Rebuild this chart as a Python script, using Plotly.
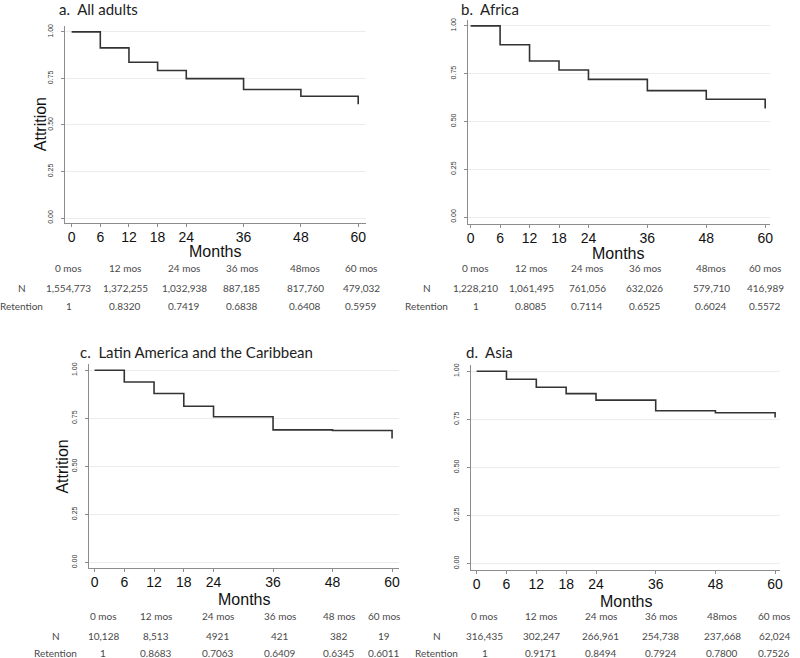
import plotly.graph_objects as go

W, H = 800, 658

# ---------------- data ----------------
months = [0, 6, 12, 18, 24, 36, 48, 60, 60]
surv_a = [1.0, 0.914, 0.837, 0.792, 0.749, 0.690, 0.654, 0.654, 0.611]
surv_b = [1.0, 0.901, 0.816, 0.769, 0.720, 0.661, 0.616, 0.616, 0.567]
surv_c = [1.0, 0.939, 0.879, 0.813, 0.758, 0.690, 0.687, 0.687, 0.645]
surv_d = [1.0, 0.959, 0.917, 0.884, 0.850, 0.795, 0.784, 0.784, 0.759]

xtick_vals = [0, 6, 12, 18, 24, 36, 48, 60]
ytick_vals = [0, 0.25, 0.5, 0.75, 1.0]
ytick_text = ["0.00", "0.25", "0.50", "0.75", "1.00"]

titles = ["a.  All adults", "b.  Africa", "c.  Latin America and the Caribbean", "d.  Asia"]

hdr_a = ["0 mos", "12 mos", "24 mos", "36 mos", "48mos", "60 mos"]
hdr_b = ["0 mos", "12 mos", "24 mos", "36 mos", "48mos", "60 mos"]
hdr_c = ["0 mos", "12 mos", "24 mos", "36 mos", "48 mos", "60 mos"]
hdr_d = ["0 mos", "12 mos", "24 mos", "36 mos", "48mos", "60 mos"]

n_a = ["1,554,773", "1,372,255", "1,032,938", "887,185", "817,760", "479,032"]
n_b = ["1,228,210", "1,061,495", "761,056", "632,026", "579,710", "416,989"]
n_c = ["10,128", "8,513", "4921", "421", "382", "19"]
n_d = ["316,435", "302,247", "266,961", "254,738", "237,668", "62,024"]

ret_a = ["1", "0.8320", "0.7419", "0.6838", "0.6408", "0.5959"]
ret_b = ["1", "0.8085", "0.7114", "0.6525", "0.6024", "0.5572"]
ret_c = ["1", "0.8683", "0.7063", "0.6409", "0.6345", "0.6011"]
ret_d = ["1", "0.9171", "0.8494", "0.7924", "0.7800", "0.7526"]

# ---------------- layout spec (pixels) ----------------
def px(x):
    return x / W

def py(y):
    return 1 - y / H

panels = [
    dict(surv=surv_a, title=titles[0], hdr=hdr_a, n=n_a, ret=ret_a,
         dom_x=(64, 367), dom_y=(24, 222), xr=(-1.458, 61.667), yr=(-0.0267, 1.032),
         title_xy=(56, 7), months_xy=(215, 251), attr_xy=(40, 123),
         cols=[68, 125, 184, 242, 306, 362], lab_x=21, rows=[267, 287, 305]),
    dict(surv=surv_b, title=titles[1], hdr=hdr_b, n=n_b, ret=ret_b,
         dom_x=(469, 773), dom_y=(18, 223), xr=(-0.608, 61.01), yr=(-0.0365, 1.031),
         title_xy=(460, 7), months_xy=(620, 253), attr_xy=None,
         cols=[477, 533, 589, 647, 714, 768], lab_x=428, rows=[267, 287, 305]),
    dict(surv=surv_c, title=titles[2], hdr=hdr_c, n=n_c, ret=ret_c,
         dom_x=(88, 400), dom_y=(364, 569), xr=(-1.204, 61.40), yr=(-0.031, 1.031),
         title_xy=(77, 352), months_xy=(244, 600), attr_xy=(62, 467),
         cols=[103, 156, 218, 280, 340, 385], lab_x=55, rows=[617, 637, 654]),
    dict(surv=surv_d, title=titles[3], hdr=hdr_d, n=n_d, ret=ret_d,
         dom_x=(472, 783), dom_y=(365, 571), xr=(-1.2, 61.0), yr=(-0.036, 1.031),
         title_xy=(465, 352), months_xy=(628, 602), attr_xy=None,
         cols=[486, 543, 603, 663, 725, 777], lab_x=438, rows=[617, 637, 654]),
]

fig = go.Figure()
annotations = []
line_col = "#333333"
axis_col = "#8c8c8c"
grid_col = "#ececec"
tbl_font = dict(family="Lato, Carlito, sans-serif", size=10, color="#4a4a4a")

for i, p in enumerate(panels, start=1):
    sfx = "" if i == 1 else str(i)
    fig.add_trace(go.Scatter(
        x=months, y=p["surv"], mode="lines", line_shape="hv",
        line=dict(color=line_col, width=1.6),
        xaxis="x" + sfx, yaxis="y" + sfx, showlegend=False, hoverinfo="x+y"))

    fig.layout["xaxis" + sfx] = dict(
        domain=[px(p["dom_x"][0]), px(p["dom_x"][1])], range=list(p["xr"]),
        anchor="y" + sfx, tickmode="array", tickvals=xtick_vals,
        ticks="outside", ticklen=3, tickcolor=axis_col, showline=True,
        linecolor=axis_col, linewidth=1, showgrid=False, zeroline=False,
        tickfont=dict(family="Arial, Liberation Sans, sans-serif", size=14, color="#111"),
        ticklabelstandoff=-2, fixedrange=True)
    fig.layout["yaxis" + sfx] = dict(
        domain=[py(p["dom_y"][1]), py(p["dom_y"][0])], range=list(p["yr"]),
        anchor="x" + sfx, tickmode="array", tickvals=ytick_vals, ticktext=ytick_text,
        tickangle=-90, ticks="outside", ticklen=3, tickcolor=axis_col,
        showline=True, linecolor=axis_col, linewidth=1, showgrid=True,
        gridcolor=grid_col, gridwidth=1, zeroline=False,
        tickfont=dict(family="Arial, Liberation Sans, sans-serif", size=7, color="#333"),
        ticklabelstandoff=5, fixedrange=True)

    # panel title
    annotations.append(dict(
        text=p["title"], x=px(p["title_xy"][0]), y=py(p["title_xy"][1]),
        xref="paper", yref="paper", xanchor="left", yanchor="middle", showarrow=False,
        font=dict(family="Lato, Carlito, sans-serif", size=15, color="#222")))
    # Months
    annotations.append(dict(
        text="Months", x=px(p["months_xy"][0]), y=py(p["months_xy"][1]),
        xref="paper", yref="paper", xanchor="center", yanchor="middle", showarrow=False,
        font=dict(family="Arial, Liberation Sans, sans-serif", size=16, color="#111")))
    # Attrition
    if p["attr_xy"] is not None:
        annotations.append(dict(
            text="Attrition", x=px(p["attr_xy"][0]), y=py(p["attr_xy"][1]),
            xref="paper", yref="paper", xanchor="center", yanchor="middle",
            showarrow=False, textangle=-90,
            font=dict(family="Arial, Liberation Sans, sans-serif", size=16, color="#111")))
    # table
    r_h, r_n, r_r = p["rows"]
    annotations.append(dict(text="N", x=px(p["lab_x"]), y=py(r_n), xref="paper",
                            yref="paper", xanchor="center", yanchor="middle",
                            showarrow=False, font=tbl_font))
    annotations.append(dict(text="Retention", x=px(p["lab_x"]), y=py(r_r), xref="paper",
                            yref="paper", xanchor="center", yanchor="middle",
                            showarrow=False, font=tbl_font))
    for cx, h, n, r in zip(p["cols"], p["hdr"], p["n"], p["ret"]):
        for txt, ry in ((h, r_h), (n, r_n), (r, r_r)):
            annotations.append(dict(text=txt, x=px(cx), y=py(ry), xref="paper",
                                    yref="paper", xanchor="center", yanchor="middle",
                                    showarrow=False, font=tbl_font))

fig.update_layout(
    width=W, height=H, margin=dict(l=0, r=0, t=0, b=0),
    paper_bgcolor="white", plot_bgcolor="white",
    annotations=annotations, showlegend=False)

fig.write_html("out.html", config={"displayModeBar": False},
               post_script="document.body.style.margin='0px';document.body.style.overflow='hidden';")
